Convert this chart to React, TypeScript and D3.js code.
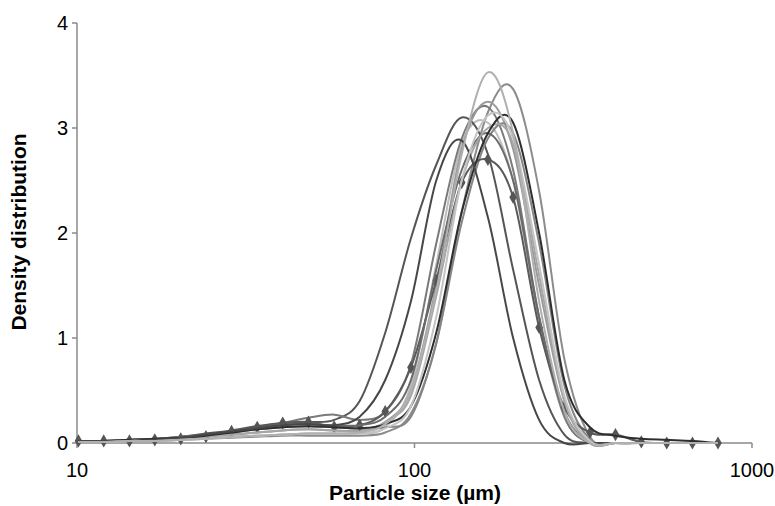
import { useEffect, useRef } from "react";
import * as d3 from "d3";

// particle size classes (µm)
const sizes = [
	10.1, 12.0, 14.3, 17.0, 20.3, 24.1, 28.7, 34.2, 40.7, 48.5, 57.8, 68.8, 81.9,
	97.6, 116, 138, 165, 196, 234, 278, 331, 394, 470, 559, 666, 793,
];

const xTicks = [10, 100, 1000];
const yTicks = [0, 1, 2, 3, 4];

// density distribution of each sample
const sDark1 = [0.02, 0.02, 0.03, 0.04, 0.06, 0.09, 0.12, 0.16, 0.19, 0.2, 0.22, 0.4, 1.05, 1.95, 2.65, 3.1, 2.75, 1.65, 0.6, 0.08, 0, 0, 0, 0, 0, 0];
const sDark2 = [0.02, 0.02, 0.02, 0.03, 0.05, 0.08, 0.11, 0.14, 0.17, 0.18, 0.17, 0.25, 0.6, 1.35, 2.5, 2.88, 2.15, 1.0, 0.22, 0, 0, 0, 0, 0, 0, 0];
const sLight1 = [0.01, 0.01, 0.02, 0.02, 0.03, 0.04, 0.06, 0.07, 0.08, 0.09, 0.09, 0.1, 0.18, 0.5, 1.45, 2.75, 3.53, 2.95, 1.35, 0.3, 0, 0, 0, 0, 0, 0];
const sGray1 = [0.01, 0.01, 0.02, 0.02, 0.03, 0.04, 0.05, 0.06, 0.07, 0.07, 0.07, 0.07, 0.1, 0.28, 0.95, 2.2, 3.15, 3.37, 2.4, 0.8, 0.06, 0, 0, 0, 0, 0];
const sBump = [0.01, 0.02, 0.02, 0.03, 0.05, 0.07, 0.1, 0.14, 0.19, 0.24, 0.27, 0.22, 0.3, 0.75, 1.9, 2.9, 3.2, 2.6, 1.2, 0.25, 0, 0, 0, 0, 0, 0];
const s5 = [0.01, 0.02, 0.02, 0.03, 0.04, 0.06, 0.08, 0.1, 0.12, 0.13, 0.12, 0.12, 0.2, 0.5, 1.5, 2.8, 3.25, 2.8, 1.5, 0.4, 0, 0, 0, 0, 0, 0];
const s7 = [0.01, 0.01, 0.02, 0.02, 0.03, 0.04, 0.06, 0.07, 0.08, 0.09, 0.09, 0.09, 0.14, 0.35, 1.2, 2.5, 3.12, 2.9, 1.7, 0.45, 0.02, 0, 0, 0, 0, 0];
const sBlack = [0.02, 0.02, 0.03, 0.04, 0.05, 0.07, 0.1, 0.13, 0.15, 0.16, 0.15, 0.14, 0.18, 0.35, 1.05, 2.2, 2.95, 3.05, 2.0, 0.6, 0.15, 0.07, 0.04, 0.03, 0.02, 0];
const s9 = [0.01, 0.02, 0.02, 0.03, 0.04, 0.06, 0.08, 0.1, 0.12, 0.13, 0.12, 0.11, 0.2, 0.45, 1.4, 2.5, 3.0, 2.85, 1.6, 0.4, 0, 0, 0, 0, 0, 0];
const s10 = [0.02, 0.02, 0.03, 0.04, 0.05, 0.07, 0.1, 0.13, 0.15, 0.16, 0.15, 0.14, 0.15, 0.25, 0.95, 2.1, 2.9, 2.95, 1.9, 0.55, 0.03, 0, 0, 0, 0, 0];
const s11 = [0.02, 0.02, 0.03, 0.04, 0.06, 0.08, 0.11, 0.14, 0.17, 0.18, 0.17, 0.17, 0.25, 0.6, 1.65, 2.6, 2.95, 2.5, 1.2, 0.3, 0, 0, 0, 0, 0, 0];
const s12 = [0.01, 0.01, 0.02, 0.02, 0.03, 0.04, 0.06, 0.07, 0.08, 0.09, 0.09, 0.09, 0.15, 0.55, 1.7, 2.85, 3.05, 2.5, 1.15, 0.25, 0, 0, 0, 0, 0, 0];
const sDiamond = [0.02, 0.02, 0.02, 0.03, 0.04, 0.06, 0.11, 0.15, 0.19, 0.2, 0.155, 0.17, 0.3, 0.72, 1.55, 2.48, 2.7, 2.34, 1.1, 0.34, 0.1, 0.08, 0.01, 0, 0, 0];

const series = [
	{ values: sGray1, color: "#8c8c8c" },
	{ values: s12, color: "#bdbdbd" },
	{ values: sDark1, color: "#555555" },
	{ values: sBump, color: "#7a7a7a" },
	{ values: s5, color: "#9a9a9a" },
	{ values: s10, color: "#858585" },
	{ values: sDiamond, color: "#5a5a5a", marker: true },
	{ values: s11, color: "#6a6a6a" },
	{ values: s9, color: "#a6a6a6" },
	{ values: sBlack, color: "#2e2e2e" },
	{ values: sDark2, color: "#474747" },
	{ values: s7, color: "#c4c4c4" },
	{ values: sLight1, color: "#b0b0b0" },
];

const FONT = "'Liberation Sans', Arial, sans-serif";

const App = () => {
	const svgRef = useRef<SVGSVGElement>(null);

	useEffect(() => {
		if (!svgRef.current) return;
		const svg = d3.select(svgRef.current);
		svg.selectAll("*").remove();

		const x = d3.scaleLog().domain([10, 1000]).range([77, 752]);
		const y = d3.scaleLinear().domain([0, 4]).range([443, 23]);

		// axes
		const axisColor = "#8a8a8a";
		svg.append("line").attr("x1", x(10)).attr("x2", x(10)).attr("y1", y(4)).attr("y2", y(0))
			.attr("stroke", axisColor).attr("stroke-width", 1.5);
		svg.append("line").attr("x1", x(10)).attr("x2", x(1000)).attr("y1", y(0)).attr("y2", y(0))
			.attr("stroke", axisColor).attr("stroke-width", 1.5);

		yTicks.forEach((t) => {
			svg.append("line").attr("x1", x(10) - 5).attr("x2", x(10)).attr("y1", y(t)).attr("y2", y(t))
				.attr("stroke", axisColor).attr("stroke-width", 1.5);
			svg.append("text").attr("x", x(10) - 9).attr("y", y(t)).attr("dy", "0.35em")
				.attr("text-anchor", "end").style("font-family", FONT).style("font-size", "20px")
				.text(String(t));
		});
		xTicks.forEach((t) => {
			svg.append("line").attr("x1", x(t)).attr("x2", x(t)).attr("y1", y(0)).attr("y2", y(0) + 5)
				.attr("stroke", axisColor).attr("stroke-width", 1.5);
			svg.append("text").attr("x", x(t)).attr("y", 477)
				.attr("text-anchor", "middle").style("font-family", FONT).style("font-size", "20px")
				.text(String(t));
		});

		// titles
		svg.append("text").attr("x", 415).attr("y", 500).attr("text-anchor", "middle")
			.style("font-family", FONT).style("font-size", "21px").style("font-weight", "bold")
			.text("Particle size (µm)");
		svg.append("text").attr("transform", "translate(26,232) rotate(-90)").attr("text-anchor", "middle")
			.style("font-family", FONT).style("font-size", "21px").style("font-weight", "bold")
			.text("Density distribution");

		// curves
		const line = d3.line<number>()
			.x((_, i) => x(sizes[i]))
			.y((d) => y(d))
			.curve(d3.curveCardinal.tension(0));

		series.forEach((s) => {
			svg.append("path").attr("d", line(s.values)).attr("fill", "none")
				.attr("stroke", s.color).attr("stroke-width", 2);
			if (s.marker) {
				svg.selectAll(null).data(s.values).enter().append("path")
					.attr("d", d3.symbol(d3.symbolDiamond, 50)())
					.attr("transform", (d, i) => `translate(${x(sizes[i])},${y(d)})`)
					.attr("fill", "#555555");
			}
		});
	}, []);

	return (
		<svg ref={svgRef} width={775} height={506}
			style={{ position: "absolute", left: 0, top: 0, background: "#fff" }} />
	);
};

export default App;
